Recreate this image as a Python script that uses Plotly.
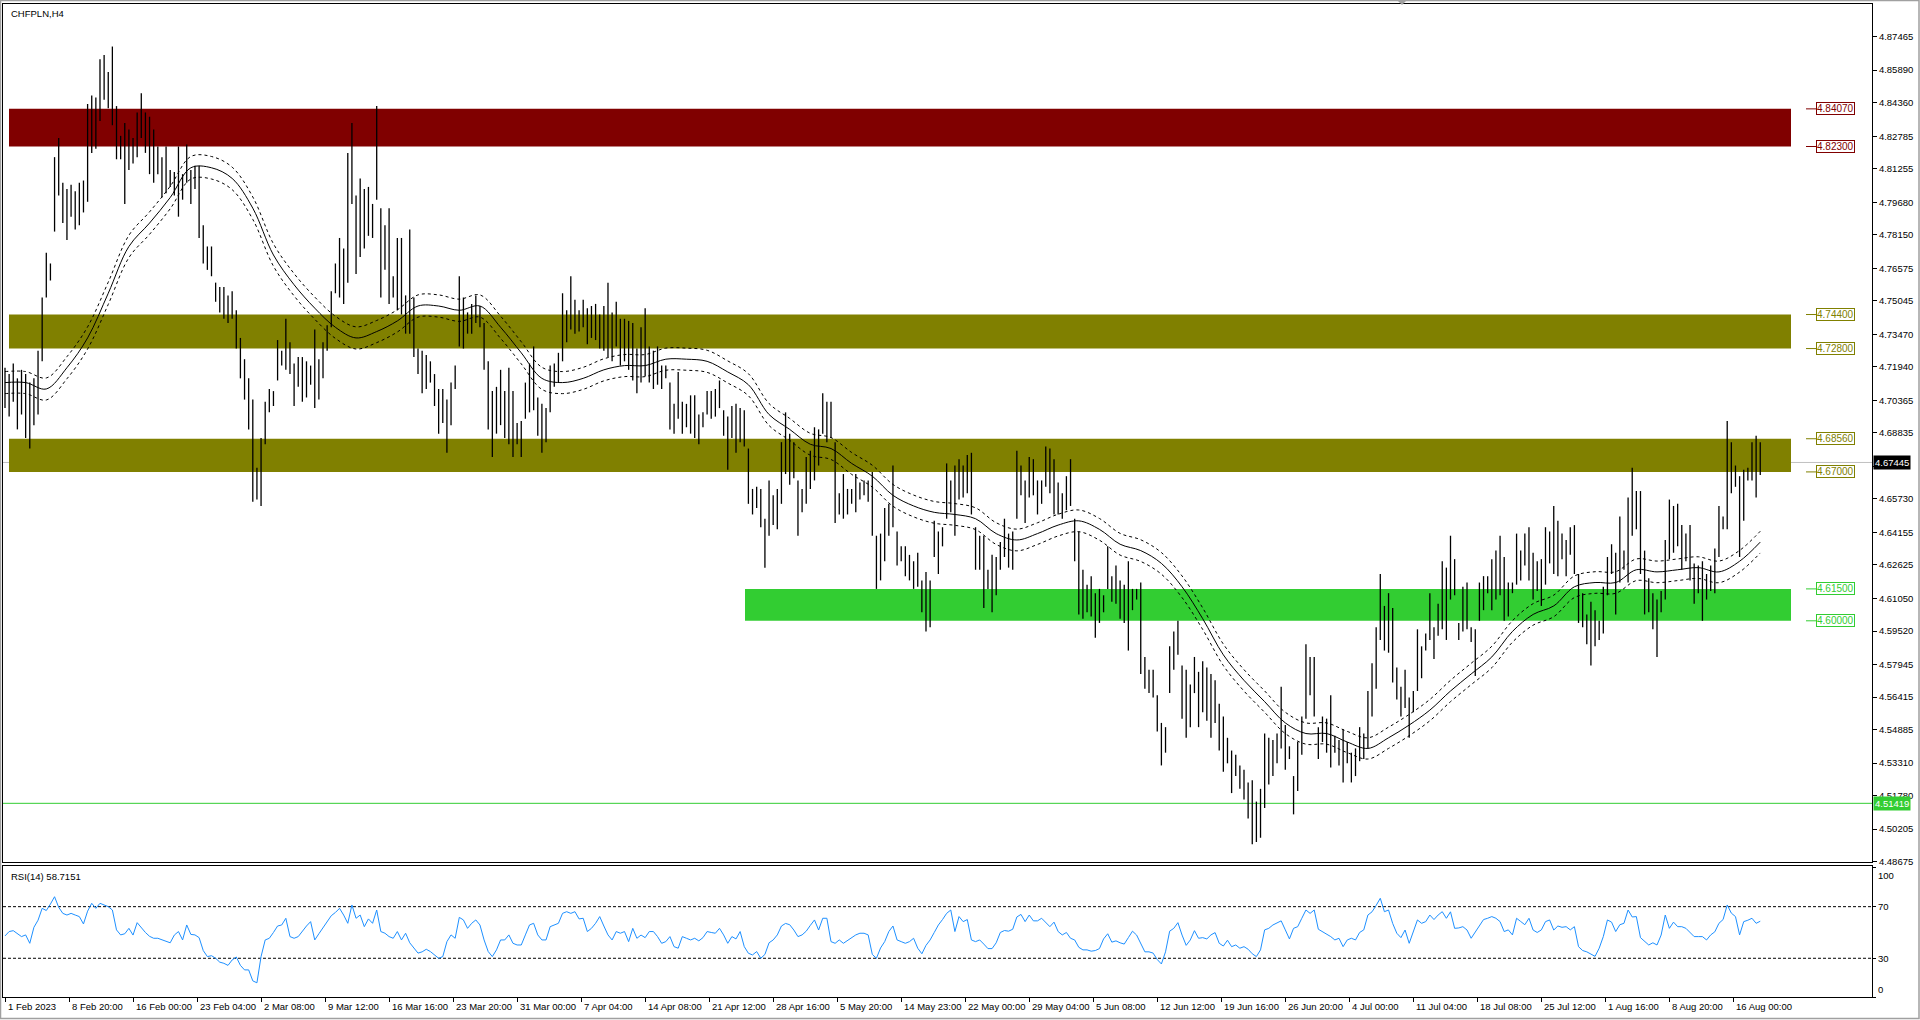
import plotly.graph_objects as go

# ---------------- data ----------------
symbol_title = "CHFPLN,H4"
rsi_title = "RSI(14) 58.7151"

# one plotted bar = two H4 bars
bar_high = [
    4.719, 4.716, 4.721, 4.714, 4.718, 4.716, 4.712, 4.714, 4.727, 4.752,
    4.773, 4.768, 4.818, 4.827, 4.806, 4.803, 4.805, 4.802, 4.806, 4.807,
    4.843, 4.847, 4.846, 4.864, 4.866, 4.858, 4.870, 4.842, 4.828, 4.834,
    4.831, 4.827, 4.839, 4.848, 4.839, 4.837, 4.831, 4.823, 4.818, 4.823,
    4.812, 4.811, 4.823, 4.810, 4.824, 4.812, 4.814, 4.814, 4.786, 4.776,
    4.776, 4.759, 4.757, 4.757, 4.753, 4.755, 4.746, 4.733, 4.723, 4.714,
    4.704, 4.672, 4.686, 4.703, 4.709, 4.708, 4.732, 4.727, 4.742, 4.731,
    4.721, 4.724, 4.724, 4.722, 4.720, 4.737, 4.723, 4.731, 4.739, 4.755,
    4.768, 4.780, 4.775, 4.820, 4.834, 4.800, 4.808, 4.803, 4.804, 4.796,
    4.842, 4.794, 4.786, 4.794, 4.762, 4.780, 4.780, 4.753, 4.784, 4.752,
    4.728, 4.727, 4.725, 4.722, 4.716, 4.709, 4.709, 4.704, 4.712, 4.720,
    4.762, 4.752, 4.745, 4.749, 4.753, 4.748, 4.740, 4.722, 4.708, 4.710,
    4.718, 4.708, 4.719, 4.708, 4.693, 4.694, 4.712, 4.721, 4.729, 4.705,
    4.702, 4.700, 4.720, 4.721, 4.726, 4.754, 4.746, 4.762, 4.751, 4.746,
    4.751, 4.747, 4.748, 4.749, 4.744, 4.748, 4.759, 4.745, 4.750, 4.742,
    4.742, 4.741, 4.740, 4.728, 4.738, 4.747, 4.729, 4.727, 4.729, 4.720,
    4.720, 4.712, 4.702, 4.717, 4.703, 4.702, 4.706, 4.706, 4.697, 4.698,
    4.708, 4.708, 4.709, 4.713, 4.699, 4.696, 4.701, 4.702, 4.700, 4.699,
    4.681, 4.662, 4.663, 4.662, 4.648, 4.666, 4.659, 4.662, 4.684, 4.698,
    4.688, 4.684, 4.666, 4.662, 4.677, 4.680, 4.691, 4.690, 4.707, 4.703,
    4.703, 4.684, 4.660, 4.669, 4.662, 4.662, 4.669, 4.665, 4.666, 4.666,
    4.670, 4.640, 4.641, 4.653, 4.655, 4.673, 4.642, 4.635, 4.635, 4.631,
    4.628, 4.632, 4.619, 4.623, 4.619, 4.647, 4.642, 4.644, 4.674, 4.666,
    4.673, 4.676, 4.673, 4.678, 4.679, 4.644, 4.640, 4.640, 4.624, 4.631,
    4.630, 4.637, 4.648, 4.641, 4.642, 4.680, 4.673, 4.666, 4.677, 4.676,
    4.666, 4.666, 4.682, 4.681, 4.676, 4.665, 4.660, 4.668, 4.676, 4.648,
    4.642, 4.624, 4.617, 4.621, 4.613, 4.615, 4.612, 4.635, 4.621, 4.626,
    4.619, 4.617, 4.628, 4.615, 4.615, 4.618, 4.583, 4.577, 4.577, 4.565,
    4.552, 4.550, 4.588, 4.595, 4.600, 4.579, 4.577, 4.570, 4.583, 4.576,
    4.581, 4.578, 4.575, 4.572, 4.561, 4.555, 4.545, 4.539, 4.537, 4.532,
    4.530, 4.524, 4.525, 4.515, 4.521, 4.547, 4.545, 4.544, 4.547, 4.569,
    4.551, 4.541, 4.527, 4.543, 4.555, 4.589, 4.583, 4.583, 4.550, 4.555,
    4.554, 4.565, 4.546, 4.544, 4.549, 4.543, 4.538, 4.540, 4.550, 4.547,
    4.567, 4.580, 4.597, 4.622, 4.607, 4.613, 4.606, 4.578, 4.569, 4.577,
    4.564, 4.567, 4.596, 4.588, 4.594, 4.613, 4.597, 4.608, 4.628, 4.625,
    4.640, 4.629, 4.599, 4.616, 4.618, 4.597, 4.596, 4.618, 4.621, 4.621,
    4.629, 4.633, 4.640, 4.630, 4.618, 4.618, 4.641, 4.633, 4.641, 4.644,
    4.632, 4.628, 4.629, 4.644, 4.642, 4.654, 4.647, 4.641, 4.638, 4.644,
    4.645, 4.622, 4.613, 4.603, 4.609, 4.605, 4.600, 4.616, 4.630, 4.636,
    4.632, 4.649, 4.633, 4.658, 4.672, 4.661, 4.661, 4.633, 4.620, 4.613,
    4.610, 4.614, 4.638, 4.657, 4.654, 4.655, 4.645, 4.641, 4.645, 4.627,
    4.626, 4.628, 4.622, 4.626, 4.634, 4.654, 4.649, 4.694, 4.684, 4.673,
    4.668, 4.671, 4.672, 4.684, 4.687, 4.684,
]
bar_low = [
    4.700, 4.696, 4.703, 4.690, 4.697, 4.686, 4.681, 4.692, 4.697, 4.722,
    4.752, 4.760, 4.783, 4.800, 4.787, 4.779, 4.790, 4.784, 4.786, 4.792,
    4.797, 4.820, 4.822, 4.835, 4.845, 4.841, 4.833, 4.817, 4.817, 4.796,
    4.812, 4.815, 4.818, 4.827, 4.820, 4.810, 4.806, 4.810, 4.799, 4.801,
    4.804, 4.800, 4.790, 4.798, 4.806, 4.796, 4.803, 4.780, 4.768, 4.765,
    4.762, 4.750, 4.745, 4.742, 4.740, 4.742, 4.728, 4.714, 4.704, 4.690,
    4.656, 4.657, 4.654, 4.683, 4.698, 4.701, 4.713, 4.720, 4.718, 4.716,
    4.701, 4.710, 4.703, 4.705, 4.711, 4.700, 4.704, 4.714, 4.727, 4.738,
    4.754, 4.752, 4.749, 4.759, 4.796, 4.763, 4.771, 4.775, 4.781, 4.780,
    4.798, 4.752, 4.765, 4.749, 4.752, 4.746, 4.744, 4.735, 4.735, 4.724,
    4.716, 4.707, 4.709, 4.712, 4.701, 4.688, 4.693, 4.679, 4.692, 4.709,
    4.729, 4.728, 4.735, 4.735, 4.740, 4.738, 4.718, 4.690, 4.677, 4.688,
    4.692, 4.686, 4.683, 4.677, 4.683, 4.677, 4.695, 4.698, 4.699, 4.687,
    4.679, 4.684, 4.698, 4.710, 4.712, 4.722, 4.731, 4.737, 4.735, 4.736,
    4.738, 4.730, 4.733, 4.732, 4.728, 4.727, 4.724, 4.722, 4.729, 4.720,
    4.722, 4.718, 4.713, 4.707, 4.712, 4.715, 4.712, 4.709, 4.711, 4.709,
    4.714, 4.690, 4.688, 4.695, 4.688, 4.691, 4.688, 4.686, 4.683, 4.691,
    4.697, 4.695, 4.696, 4.700, 4.687, 4.671, 4.686, 4.679, 4.684, 4.682,
    4.655, 4.650, 4.653, 4.644, 4.625, 4.640, 4.645, 4.643, 4.655, 4.669,
    4.664, 4.667, 4.640, 4.651, 4.655, 4.662, 4.666, 4.673, 4.688, 4.684,
    4.686, 4.646, 4.650, 4.648, 4.650, 4.655, 4.651, 4.657, 4.659, 4.656,
    4.640, 4.615, 4.619, 4.628, 4.640, 4.644, 4.626, 4.628, 4.621, 4.619,
    4.615, 4.616, 4.604, 4.595, 4.597, 4.630, 4.622, 4.635, 4.648, 4.651,
    4.640, 4.657, 4.658, 4.660, 4.650, 4.624, 4.624, 4.606, 4.615, 4.604,
    4.612, 4.624, 4.630, 4.625, 4.624, 4.648, 4.659, 4.646, 4.658, 4.659,
    4.650, 4.655, 4.663, 4.660, 4.650, 4.650, 4.648, 4.652, 4.654, 4.628,
    4.603, 4.601, 4.604, 4.602, 4.592, 4.599, 4.604, 4.615, 4.609, 4.608,
    4.601, 4.599, 4.586, 4.605, 4.610, 4.575, 4.568, 4.566, 4.564, 4.548,
    4.532, 4.538, 4.566, 4.577, 4.584, 4.554, 4.545, 4.550, 4.566, 4.550,
    4.557, 4.553, 4.545, 4.552, 4.539, 4.529, 4.533, 4.519, 4.527, 4.521,
    4.516, 4.507, 4.495, 4.496, 4.498, 4.512, 4.523, 4.527, 4.533, 4.540,
    4.530, 4.535, 4.509, 4.520, 4.537, 4.554, 4.565, 4.555, 4.535, 4.543,
    4.538, 4.531, 4.538, 4.532, 4.524, 4.533, 4.524, 4.527, 4.534, 4.535,
    4.540, 4.555, 4.568, 4.591, 4.586, 4.585, 4.571, 4.563, 4.555, 4.559,
    4.545, 4.557, 4.567, 4.573, 4.586, 4.591, 4.582, 4.593, 4.596, 4.591,
    4.610, 4.612, 4.591, 4.595, 4.596, 4.590, 4.574, 4.600, 4.605, 4.613,
    4.605, 4.610, 4.612, 4.600, 4.602, 4.613, 4.617, 4.619, 4.626, 4.619,
    4.610, 4.614, 4.607, 4.617, 4.627, 4.622, 4.621, 4.629, 4.621, 4.631,
    4.622, 4.599, 4.597, 4.589, 4.579, 4.588, 4.591, 4.594, 4.612, 4.622,
    4.603, 4.618, 4.624, 4.618, 4.640, 4.643, 4.622, 4.603, 4.604, 4.596,
    4.583, 4.604, 4.610, 4.629, 4.632, 4.635, 4.624, 4.628, 4.619, 4.608,
    4.613, 4.600, 4.610, 4.614, 4.613, 4.630, 4.643, 4.643, 4.660, 4.663,
    4.630, 4.647, 4.666, 4.666, 4.658, 4.6686,
]

# moving average (one value every 5 plotted bars) and its envelope
ma_every = 5
ma_center = [
    4.712, 4.712, 4.709, 4.719, 4.733, 4.754, 4.776, 4.787, 4.799, 4.813,
    4.813, 4.808, 4.794, 4.772, 4.758, 4.747, 4.738, 4.733, 4.736, 4.741,
    4.748, 4.748, 4.746, 4.748, 4.738, 4.726, 4.714, 4.712, 4.714, 4.718,
    4.720, 4.720, 4.723, 4.723, 4.722, 4.717, 4.711, 4.697, 4.690, 4.683,
    4.681, 4.674, 4.668, 4.659, 4.654, 4.651, 4.650, 4.648, 4.641, 4.638,
    4.641, 4.645, 4.647, 4.643, 4.636, 4.633, 4.627, 4.616, 4.601, 4.584,
    4.572, 4.562, 4.552, 4.547, 4.547, 4.543, 4.540, 4.545, 4.551, 4.558,
    4.567, 4.575, 4.583, 4.595, 4.603, 4.607, 4.616, 4.618, 4.618, 4.624,
    4.623, 4.624, 4.625, 4.623, 4.628, 4.637,
]
envelope_deviation = 0.0011

rsi_values = [
    47.3, 50.7, 51.4, 49.4, 46.8, 48.1, 41.6, 54.0, 59.5, 68.7,
    67.0, 72.0, 77.7, 69.5, 64.8, 63.5, 64.8, 63.5, 62.3, 56.6,
    66.5, 72.6, 68.7, 72.6, 71.0, 70.0, 67.4, 52.0, 48.1, 49.0,
    53.2, 48.0, 57.6, 53.5, 50.0, 47.0, 45.5, 45.5, 44.2, 42.9,
    42.0, 48.0, 50.7, 44.2, 55.8, 48.5, 48.1, 46.0, 36.0, 31.3,
    32.0, 30.0, 27.0, 26.1, 24.5, 28.7, 31.0, 24.5, 21.0, 21.0,
    12.5, 11.0, 31.3, 44.2, 45.5, 50.0, 55.0, 55.8, 61.0, 46.8,
    45.5, 46.8, 51.0, 55.0, 58.4, 44.2, 49.0, 54.0, 58.0, 63.0,
    65.5, 68.7, 63.5, 57.1, 71.3, 61.0, 63.5, 54.5, 60.5, 57.1,
    67.4, 50.7, 49.4, 46.8, 45.5, 50.7, 44.2, 49.4, 42.0, 37.5,
    34.0, 35.0, 37.0, 35.2, 32.6, 30.0, 31.3, 42.9, 48.1, 45.5,
    61.7, 59.7, 53.2, 57.1, 59.7, 55.8, 44.2, 35.2, 31.3, 36.5,
    44.2, 44.2, 48.1, 41.6, 40.3, 40.3, 48.1, 55.8, 57.1, 48.1,
    44.2, 44.2, 54.5, 55.8, 57.1, 64.8, 66.1, 64.8, 66.1, 60.5,
    61.0, 50.7, 53.2, 57.1, 62.3, 55.0, 48.1, 44.2, 50.7, 49.4,
    50.7, 42.9, 53.2, 45.5, 48.0, 46.0, 50.7, 50.7, 46.8, 41.6,
    42.9, 46.8, 39.0, 37.8, 46.8, 45.5, 44.2, 45.5, 43.5, 46.0,
    50.7, 50.0, 49.4, 53.2, 48.1, 41.6, 46.8, 45.0, 50.7, 39.0,
    33.9, 32.6, 35.2, 30.0, 33.0, 42.0, 44.2, 48.1, 55.0, 57.0,
    56.0, 51.9, 46.8, 48.1, 51.0, 55.5, 59.7, 51.9, 61.0, 61.0,
    42.9, 41.6, 44.2, 41.6, 44.0, 46.0, 48.1, 49.4, 49.4, 48.1,
    33.0, 30.0, 38.0, 42.9, 50.7, 55.0, 44.2, 42.9, 41.6, 42.9,
    45.5, 37.8, 33.5, 40.0, 44.2, 50.0, 55.8, 60.0, 64.8, 67.4,
    50.7, 62.3, 58.4, 60.0, 44.2, 42.9, 44.2, 41.0, 37.5, 37.5,
    42.0, 50.0, 51.5, 51.0, 52.5, 62.0, 64.0, 58.4, 63.5, 59.0,
    59.0, 61.0, 58.0, 54.5, 58.0, 50.7, 48.1, 50.0, 45.5, 44.2,
    38.5, 36.5, 36.5, 35.5, 36.0, 37.5, 45.0, 49.0, 42.5, 43.5,
    42.0, 41.0, 46.0, 51.0, 48.0, 41.0, 35.0, 35.0, 34.0, 29.0,
    25.6, 35.0, 51.0, 53.2, 57.6, 48.0, 40.0, 44.2, 51.4, 45.5,
    46.0, 45.0, 48.1, 49.9, 41.6, 39.5, 44.0, 39.0, 40.3, 37.8,
    39.0, 37.0, 33.5, 31.3, 36.5, 52.0, 53.2, 55.8, 57.1, 59.0,
    52.0, 45.0, 53.2, 54.5, 61.0, 67.4, 64.8, 67.4, 52.5, 50.5,
    49.0, 46.8, 44.2, 45.5, 39.0, 44.2, 45.5, 44.2, 50.0, 52.0,
    63.5, 66.0, 71.0, 76.5, 66.1, 67.4, 57.0, 49.4, 46.0, 51.9,
    41.6, 50.0, 59.7, 57.1, 58.4, 63.5, 60.0, 63.5, 66.1, 61.0,
    66.0, 53.2, 53.5, 54.5, 51.9, 45.5, 50.5, 56.0, 60.0, 61.0,
    62.3, 61.0, 58.4, 50.7, 52.0, 48.1, 61.0, 58.5, 56.0, 61.0,
    51.9, 50.0, 52.0, 58.4, 59.7, 51.9, 55.0, 54.0, 54.5, 52.0,
    54.5, 39.0, 36.0, 35.0, 33.5, 31.5, 37.8, 46.8, 59.7, 58.0,
    50.7, 56.0, 57.1, 67.4, 62.0, 62.3, 46.0, 42.9, 40.3, 42.0,
    40.3, 48.0, 63.5, 53.2, 58.0, 54.5, 54.5, 53.2, 50.0, 46.8,
    46.8, 46.8, 44.2, 48.1, 50.5, 57.1, 60.0, 71.3, 65.0, 62.3,
    48.1, 58.4, 59.5, 61.0, 57.1, 58.7,
]

last_price = 4.67445
support_level = 4.51419

zone_top = [4.8407, 4.7440, 4.6856, 4.6150]
zone_bottom = [4.8230, 4.7280, 4.6700, 4.6000]

price_ticks = [4.87465, 4.85890, 4.84360, 4.82785, 4.81255, 4.79680, 4.78150,
               4.76575, 4.75045, 4.73470, 4.71940, 4.70365, 4.68835, 4.67260,
               4.65730, 4.64155, 4.62625, 4.61050, 4.59520, 4.57945, 4.56415,
               4.54885, 4.53310, 4.51780, 4.50205, 4.48675]

time_labels = ["1 Feb 2023", "8 Feb 20:00", "16 Feb 00:00", "23 Feb 04:00",
               "2 Mar 08:00", "9 Mar 12:00", "16 Mar 16:00", "23 Mar 20:00",
               "31 Mar 00:00", "7 Apr 04:00", "14 Apr 08:00", "21 Apr 12:00",
               "28 Apr 16:00", "5 May 20:00", "14 May 23:00", "22 May 00:00",
               "29 May 04:00", "5 Jun 08:00", "12 Jun 12:00", "19 Jun 16:00",
               "26 Jun 20:00", "4 Jul 00:00", "11 Jul 04:00", "18 Jul 08:00",
               "25 Jul 12:00", "1 Aug 16:00", "8 Aug 20:00", "16 Aug 00:00"]
h4_bars_per_label = 31
h4_bars_per_plotted_bar = 2

rsi_levels = [70, 30]
rsi_scale = [100, 70, 30, 0]

# ---------------- layout / style ----------------
W, H = 1920, 1020
ML, MR, MT, MB = 3, 48, 4, 23
PW, PH = W - ML - MR, H - MT - MB
BAR_PITCH = 4.13
FIRST_BAR_PX = 5.0
PRICE_RANGE = [4.4866, 4.8900]
RSI_RANGE = [0, 101.5]
FONT = "Liberation Sans, Arial, sans-serif"
FS = 9.5

MAROON, OLIVE, LIME = "#800000", "#808000", "#32CD32"
zone_colors = [MAROON, OLIVE, OLIVE, LIME]
zone_start_px = [9, 9, 9, 745]
zone_end_px = 1791
level_colors = [MAROON, MAROON, OLIVE, OLIVE, OLIVE, OLIVE, LIME, LIME]


def px_x(px):
    return (px - ML) / PW


def px_y(py):
    return (H - MB - py) / PH


def bar_at(px):
    return (px - FIRST_BAR_PX) / BAR_PITCH


n = min(len(bar_high), len(bar_low))
bx, by = [], []
for j in range(n):
    bx += [j, j, None]
    by += [bar_low[j], bar_high[j], None]

ma_x = [i * ma_every for i in range(len(ma_center))]
env_up = [v * (1 + envelope_deviation) for v in ma_center]
env_dn = [v * (1 - envelope_deviation) for v in ma_center]

fig = go.Figure()
fig.add_trace(go.Scatter(x=bx, y=by, mode="lines", line=dict(color="black", width=1.3),
                         hoverinfo="skip", xaxis="x", yaxis="y"))
fig.add_trace(go.Scatter(x=ma_x, y=ma_center, mode="lines",
                         line=dict(color="black", width=1, shape="spline"),
                         hoverinfo="skip", xaxis="x", yaxis="y"))
for env in (env_up, env_dn):
    fig.add_trace(go.Scatter(x=ma_x, y=env, mode="lines",
                             line=dict(color="black", width=1, dash="3px,3px", shape="spline"),
                             hoverinfo="skip", xaxis="x", yaxis="y"))
fig.add_trace(go.Scatter(x=list(range(len(rsi_values))), y=rsi_values, mode="lines",
                         line=dict(color="#1E90FF", width=1),
                         hoverinfo="skip", xaxis="x2", yaxis="y2"))

x_range = [bar_at(ML), bar_at(W - MR)]
label_step = h4_bars_per_label / h4_bars_per_plotted_bar
tick_pos = [k * label_step for k in range(len(time_labels))]

shapes = []
for top, bot, col, x0 in zip(zone_top, zone_bottom, zone_colors, zone_start_px):
    shapes.append(dict(type="rect", xref="x", yref="y", x0=bar_at(x0), x1=bar_at(zone_end_px),
                       y0=bot, y1=top, fillcolor=col, line=dict(width=0), layer="below"))
shapes.append(dict(type="line", xref="paper", yref="y", x0=0, x1=1, y0=last_price, y1=last_price,
                   line=dict(color="#C0C0C0", width=1), layer="below"))
shapes.append(dict(type="line", xref="paper", yref="y", x0=0, x1=1, y0=support_level,
                   y1=support_level, line=dict(color=LIME, width=1), layer="below"))
for lv in rsi_levels:
    shapes.append(dict(type="line", xref="paper", yref="y2", x0=0, x1=1, y0=lv, y1=lv,
                       line=dict(color="black", width=1, dash="3px,2px"), layer="below"))

levels = []
for top, bot in zip(zone_top, zone_bottom):
    levels += [top, bot]
for lv, col in zip(levels, level_colors):
    shapes.append(dict(type="line", xref="paper", yref="y", x0=px_x(1806), x1=px_x(1816),
                       y0=lv, y1=lv, line=dict(color=col, width=1)))
# window border and chart-shift marker
shapes.append(dict(type="rect", xref="paper", yref="paper", x0=px_x(0.5), x1=px_x(1919),
                   y0=px_y(1018.5), y1=px_y(0.5), line=dict(color="#A0A0A0", width=1.5)))
shapes.append(dict(type="path", xref="paper", yref="paper",
                   path="M {a} {b} L {c} {b} L {d} {e} Z".format(
                       a=px_x(1397), b=px_y(0), c=px_x(1407), d=px_x(1402), e=px_y(5)),
                   fillcolor="#A0A0A0", line=dict(width=0)))

# the price-scale label hidden under the current-price box is left blank
hidden_tick = min(price_ticks, key=lambda v: abs(v - last_price))
tick_text = ["" if v == hidden_tick else f"{v:.5f}" for v in price_ticks]

ann = []
ann.append(dict(text=symbol_title, xref="paper", yref="paper", x=px_x(9), y=px_y(6),
                xanchor="left", yanchor="top", showarrow=False, font=dict(size=FS, color="black")))
ann.append(dict(text=rsi_title, xref="paper", yref="paper", x=px_x(9), y=px_y(869),
                xanchor="left", yanchor="top", showarrow=False, font=dict(size=FS, color="black")))
for lv, col in zip(levels, level_colors):
    ann.append(dict(text=f"{lv:.5f}", xref="paper", yref="y", x=px_x(1816), y=lv,
                    xanchor="left", yanchor="middle", showarrow=False, bgcolor="white",
                    bordercolor=col, borderwidth=1, borderpad=0,
                    font=dict(size=FS + 0.5, color=col)))
ann.append(dict(text=f"{last_price:.5f}", xref="paper", yref="y", x=1, y=last_price,
                xanchor="left", yanchor="middle", showarrow=False, bgcolor="black",
                borderpad=1, xshift=1, font=dict(size=FS, color="white")))
ann.append(dict(text=f"{support_level:.5f}", xref="paper", yref="y", x=1, y=support_level,
                xanchor="left", yanchor="middle", showarrow=False, bgcolor=LIME,
                borderpad=1, xshift=1, font=dict(size=FS, color="white")))
for pos, lab in zip(tick_pos, time_labels):
    ann.append(dict(text=lab, xref="x2", yref="paper", x=pos, y=0, xanchor="left",
                    yanchor="top", xshift=1, yshift=-2, showarrow=False,
                    font=dict(size=FS, color="black")))
for v in rsi_scale:
    anchor = "top" if v == max(rsi_scale) else ("bottom" if v == min(rsi_scale) else "middle")
    ann.append(dict(text=str(v), xref="paper", yref="y2", x=1, y=v, xanchor="left",
                    yanchor=anchor, xshift=4, showarrow=False, font=dict(size=FS, color="black")))

axis_common = dict(showgrid=False, zeroline=False, showline=True, mirror=True,
                   linecolor="black", linewidth=1)
fig.update_layout(
    width=W, height=H, margin=dict(l=ML, r=MR, t=MT, b=MB),
    paper_bgcolor="white", plot_bgcolor="white", showlegend=False,
    font=dict(family=FONT, size=FS, color="black"),
    xaxis=dict(domain=[0, 1], range=x_range, anchor="y", showticklabels=False, ticks="",
               **axis_common),
    yaxis=dict(domain=[px_y(862), 1], range=PRICE_RANGE, side="right", anchor="x",
               tickvals=price_ticks, ticktext=tick_text,
               ticks="outside", ticklen=4, tickcolor="black",
               tickfont=dict(size=FS, color="black", family=FONT), **axis_common),
    xaxis2=dict(domain=[0, 1], range=x_range, anchor="y2", matches="x", showticklabels=False,
                tickvals=tick_pos, ticks="outside", ticklen=4, tickcolor="black", **axis_common),
    yaxis2=dict(domain=[0, px_y(866)], range=RSI_RANGE, side="right", anchor="x2",
                showticklabels=False, tickvals=rsi_scale, ticks="outside", ticklen=3,
                tickcolor="black", **axis_common),
    shapes=shapes, annotations=ann,
)

fig.write_html("out.html", config={"displayModeBar": False},
               post_script="document.body.style.margin='0';document.body.style.overflow='hidden';")
